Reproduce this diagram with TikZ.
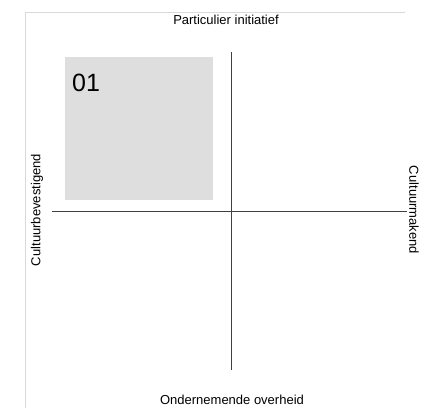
\documentclass[tikz,border=0pt]{standalone}
\usepackage{fontspec}
\setmainfont{Liberation Sans}
\begin{document}
\begin{tikzpicture}[
    x=1pt, y=-1pt,
    label/.style={font=\fontsize{13}{15}\selectfont, inner sep=0pt},
    axis/.style={draw=black!75, line width=1pt},
    frame/.style={draw=black!15, line width=0.8pt},
]
\useasboundingbox (0,0) rectangle (421,408);

% Frame
\draw[frame] (25,408) -- (25,12) -- (405,12);

% Quadrant 01
\node[fill=black!13, minimum width=148pt, minimum height=143pt, inner sep=0pt] (quad) at (139,128.5) {};
\node[font=\fontsize{25}{28}\selectfont, anchor=north west, inner sep=0pt] (num) at (72,74) {01};

% Axes
\coordinate (top) at (231,52);
\coordinate (bottom) at (231,370);
\coordinate (left) at (52,211);
\coordinate (right) at (407,211);
\draw[axis] (top) -- (bottom);
\draw[axis] (left) -- (right);

% Axis labels
\node[label] (particulier) at (226,20) {Particulier initiatief};
\node[label] (overheid) at (232,400) {Ondernemende overheid};
\node[label, rotate=90] (bevestigend) at (37,210) {Cultuurbevestigend};
\node[label, rotate=-90] (makend) at (414,210) {Cultuurmakend};

\end{tikzpicture}
\end{document}
